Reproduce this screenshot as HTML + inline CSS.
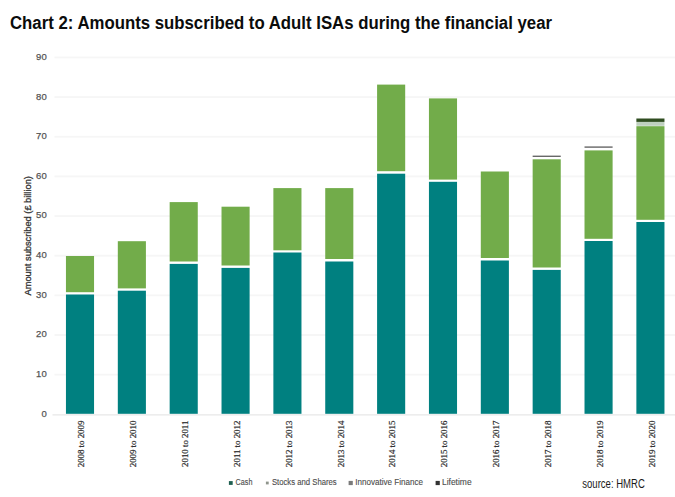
<!DOCTYPE html>
<html><head><meta charset="utf-8"><style>
html,body{margin:0;padding:0;background:#fff;width:675px;height:497px;overflow:hidden;font-family:"Liberation Sans",sans-serif;}
svg{display:block;}
</style></head><body>
<svg width="675" height="497" viewBox="0 0 675 497">
<rect width="675" height="497" fill="#ffffff"/>
<text x="10" y="28.8" font-family="Liberation Sans, sans-serif" font-weight="bold" font-size="17.6" fill="#0b0c0c" textLength="542" lengthAdjust="spacingAndGlyphs">Chart 2: Amounts subscribed to Adult ISAs during the financial year</text>
<rect x="52.5" y="414.1" width="622.5" height="1.5" fill="#ebebeb"/>
<text x="46.7" y="416.70" text-anchor="end" font-family="Liberation Sans, sans-serif" font-size="9.5" fill="#555555" stroke="#555555" stroke-width="0.25">0</text>
<rect x="54.5" y="373.75" width="620.5" height="1.8" fill="#f6f6f6"/>
<text x="46.7" y="377.05" text-anchor="end" font-family="Liberation Sans, sans-serif" font-size="9.5" fill="#555555" stroke="#555555" stroke-width="0.25">10</text>
<rect x="54.5" y="334.10" width="620.5" height="1.8" fill="#f6f6f6"/>
<text x="46.7" y="337.40" text-anchor="end" font-family="Liberation Sans, sans-serif" font-size="9.5" fill="#555555" stroke="#555555" stroke-width="0.25">20</text>
<rect x="54.5" y="294.45" width="620.5" height="1.8" fill="#f6f6f6"/>
<text x="46.7" y="297.75" text-anchor="end" font-family="Liberation Sans, sans-serif" font-size="9.5" fill="#555555" stroke="#555555" stroke-width="0.25">30</text>
<rect x="54.5" y="254.80" width="620.5" height="1.8" fill="#f6f6f6"/>
<text x="46.7" y="258.10" text-anchor="end" font-family="Liberation Sans, sans-serif" font-size="9.5" fill="#555555" stroke="#555555" stroke-width="0.25">40</text>
<rect x="54.5" y="215.15" width="620.5" height="1.8" fill="#f6f6f6"/>
<text x="46.7" y="218.45" text-anchor="end" font-family="Liberation Sans, sans-serif" font-size="9.5" fill="#555555" stroke="#555555" stroke-width="0.25">50</text>
<rect x="54.5" y="175.50" width="620.5" height="1.8" fill="#f6f6f6"/>
<text x="46.7" y="178.80" text-anchor="end" font-family="Liberation Sans, sans-serif" font-size="9.5" fill="#555555" stroke="#555555" stroke-width="0.25">60</text>
<rect x="54.5" y="135.85" width="620.5" height="1.8" fill="#f6f6f6"/>
<text x="46.7" y="139.15" text-anchor="end" font-family="Liberation Sans, sans-serif" font-size="9.5" fill="#555555" stroke="#555555" stroke-width="0.25">70</text>
<rect x="54.5" y="96.20" width="620.5" height="1.8" fill="#f6f6f6"/>
<text x="46.7" y="99.50" text-anchor="end" font-family="Liberation Sans, sans-serif" font-size="9.5" fill="#555555" stroke="#555555" stroke-width="0.25">80</text>
<rect x="54.5" y="56.55" width="620.5" height="1.8" fill="#f6f6f6"/>
<text x="46.7" y="59.85" text-anchor="end" font-family="Liberation Sans, sans-serif" font-size="9.5" fill="#555555" stroke="#555555" stroke-width="0.25">90</text>
<text transform="translate(30.9,235.8) rotate(-90)" text-anchor="middle" font-family="Liberation Sans, sans-serif" font-size="9" fill="#333333" stroke="#333333" stroke-width="0.3" textLength="119.3" lengthAdjust="spacingAndGlyphs">Amount subscribed (£ billion)</text>
<rect x="65.95" y="294.50" width="28.1" height="119.30" fill="#008080"/>
<rect x="65.95" y="256.00" width="28.1" height="36.20" fill="#72ac4a"/>
<text transform="translate(84.00,420.6) rotate(-90)" text-anchor="end" font-family="Liberation Serif, serif" font-size="8.85" fill="#222222" stroke="#222222" stroke-width="0.2">2008 to 2009</text>
<rect x="117.81" y="290.70" width="28.1" height="123.10" fill="#008080"/>
<rect x="117.81" y="241.20" width="28.1" height="47.20" fill="#72ac4a"/>
<text transform="translate(135.90,420.6) rotate(-90)" text-anchor="end" font-family="Liberation Serif, serif" font-size="8.85" fill="#222222" stroke="#222222" stroke-width="0.2">2009 to 2010</text>
<rect x="169.66" y="263.90" width="28.1" height="149.90" fill="#008080"/>
<rect x="169.66" y="202.10" width="28.1" height="59.40" fill="#72ac4a"/>
<text transform="translate(187.80,420.6) rotate(-90)" text-anchor="end" font-family="Liberation Serif, serif" font-size="8.85" fill="#222222" stroke="#222222" stroke-width="0.2">2010 to 2011</text>
<rect x="221.52" y="267.90" width="28.1" height="145.90" fill="#008080"/>
<rect x="221.52" y="206.70" width="28.1" height="58.80" fill="#72ac4a"/>
<text transform="translate(239.70,420.6) rotate(-90)" text-anchor="end" font-family="Liberation Serif, serif" font-size="8.85" fill="#222222" stroke="#222222" stroke-width="0.2">2011 to 2012</text>
<rect x="273.37" y="252.50" width="28.1" height="161.30" fill="#008080"/>
<rect x="273.37" y="188.10" width="28.1" height="62.20" fill="#72ac4a"/>
<text transform="translate(291.60,420.6) rotate(-90)" text-anchor="end" font-family="Liberation Serif, serif" font-size="8.85" fill="#222222" stroke="#222222" stroke-width="0.2">2012 to 2013</text>
<rect x="325.23" y="261.50" width="28.1" height="152.30" fill="#008080"/>
<rect x="325.23" y="188.10" width="28.1" height="70.90" fill="#72ac4a"/>
<text transform="translate(343.50,420.6) rotate(-90)" text-anchor="end" font-family="Liberation Serif, serif" font-size="8.85" fill="#222222" stroke="#222222" stroke-width="0.2">2013 to 2014</text>
<rect x="377.09" y="173.70" width="28.1" height="240.10" fill="#008080"/>
<rect x="377.09" y="84.60" width="28.1" height="86.60" fill="#72ac4a"/>
<text transform="translate(395.40,420.6) rotate(-90)" text-anchor="end" font-family="Liberation Serif, serif" font-size="8.85" fill="#222222" stroke="#222222" stroke-width="0.2">2014 to 2015</text>
<rect x="428.94" y="181.80" width="28.1" height="232.00" fill="#008080"/>
<rect x="428.94" y="98.40" width="28.1" height="81.20" fill="#72ac4a"/>
<text transform="translate(447.30,420.6) rotate(-90)" text-anchor="end" font-family="Liberation Serif, serif" font-size="8.85" fill="#222222" stroke="#222222" stroke-width="0.2">2015 to 2016</text>
<rect x="480.80" y="260.50" width="28.1" height="153.30" fill="#008080"/>
<rect x="480.80" y="171.50" width="28.1" height="86.50" fill="#72ac4a"/>
<text transform="translate(499.20,420.6) rotate(-90)" text-anchor="end" font-family="Liberation Serif, serif" font-size="8.85" fill="#222222" stroke="#222222" stroke-width="0.2">2016 to 2017</text>
<rect x="532.65" y="269.90" width="28.1" height="143.90" fill="#008080"/>
<rect x="532.65" y="159.30" width="28.1" height="108.20" fill="#72ac4a"/>
<rect x="532.65" y="155.6" width="28.1" height="1.4" fill="#686868"/>
<text transform="translate(551.10,420.6) rotate(-90)" text-anchor="end" font-family="Liberation Serif, serif" font-size="8.85" fill="#222222" stroke="#222222" stroke-width="0.2">2017 to 2018</text>
<rect x="584.51" y="241.00" width="28.1" height="172.80" fill="#008080"/>
<rect x="584.51" y="150.40" width="28.1" height="88.40" fill="#72ac4a"/>
<rect x="584.51" y="146.4" width="28.1" height="1.4" fill="#686868"/>
<text transform="translate(603.00,420.6) rotate(-90)" text-anchor="end" font-family="Liberation Serif, serif" font-size="8.85" fill="#222222" stroke="#222222" stroke-width="0.2">2018 to 2019</text>
<rect x="636.37" y="222.00" width="28.1" height="191.80" fill="#008080"/>
<rect x="636.37" y="126.20" width="28.1" height="93.60" fill="#72ac4a"/>
<rect x="636.37" y="121.9" width="28.1" height="3.9" fill="#bfd0bf"/>
<rect x="636.37" y="118.5" width="28.1" height="3.4" fill="#2f4d20"/>
<text transform="translate(654.90,420.6) rotate(-90)" text-anchor="end" font-family="Liberation Serif, serif" font-size="8.85" fill="#222222" stroke="#222222" stroke-width="0.2">2019 to 2020</text>
<rect x="228.9" y="481.10" width="3.8" height="3.8" fill="#1e5f50"/>
<text x="235.6" y="485.4" font-family="Liberation Sans, sans-serif" font-size="8.3" fill="#4d4d4d" stroke="#4d4d4d" stroke-width="0.12" textLength="16.8" lengthAdjust="spacingAndGlyphs">Cash</text>
<rect x="265.9" y="481.60" width="2.8" height="2.8" fill="#8f958c"/>
<text x="271.9" y="485.4" font-family="Liberation Sans, sans-serif" font-size="8.3" fill="#4d4d4d" stroke="#4d4d4d" stroke-width="0.12" textLength="64.8" lengthAdjust="spacingAndGlyphs">Stocks and Shares</text>
<rect x="348.6" y="480.90" width="4.2" height="4.2" fill="#7a7a7a"/>
<text x="355.3" y="485.4" font-family="Liberation Sans, sans-serif" font-size="8.3" fill="#4d4d4d" stroke="#4d4d4d" stroke-width="0.12" textLength="67.6" lengthAdjust="spacingAndGlyphs">Innovative Finance</text>
<rect x="435.6" y="480.90" width="4.2" height="4.2" fill="#333333"/>
<text x="442.0" y="485.4" font-family="Liberation Sans, sans-serif" font-size="8.3" fill="#4d4d4d" stroke="#4d4d4d" stroke-width="0.12" textLength="29.6" lengthAdjust="spacingAndGlyphs">Lifetime</text>
<text x="582.3" y="487.8" font-family="Liberation Sans, sans-serif" font-size="12" fill="#1a1a1a" textLength="62.5" lengthAdjust="spacingAndGlyphs">source: HMRC</text>
</svg>
</body></html>
